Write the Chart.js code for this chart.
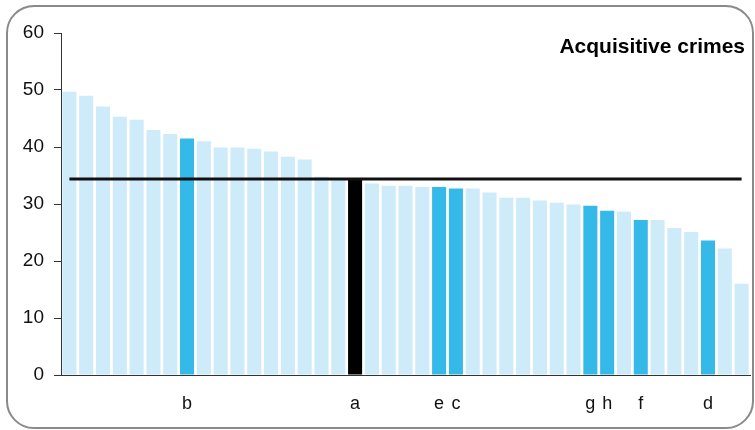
<!DOCTYPE html>
<html>
<head>
<meta charset="utf-8">
<script src="https://cdn.jsdelivr.net/npm/chart.js@4/dist/chart.umd.min.js"></script>
<style>
    body { margin: 0; background: #fff; }
    #frame {
        position: absolute; left: 6px; top: 5px;
        width: 744px; height: 420px;
        border: 2px solid #8a8a8a; border-radius: 28px;
        overflow: hidden;
    }
    canvas { display: block; }
</style>
</head>
<body>
<div id="frame"><canvas id="chart" width="744" height="420"></canvas></div>
<script>
// bar labels (most areas unlabeled)
const areaLabels = ['', '', '', '', '', '', '', 'b', '', '',
                    '', '', '', '', '', '', '', 'a', '', '',
                    '', '', 'e', 'c', '', '', '', '', '', '',
                    '', 'g', 'h', '', 'f', '', '', '', 'd', '', ''];
const rates = [49.7, 49.0, 47.1, 45.3, 44.8, 43.0, 42.3, 41.5, 41.0, 39.9,
               39.9, 39.7, 39.2, 38.3, 37.8, 34.8, 34.2, 34.4, 33.6, 33.2,
               33.2, 33.0, 33.0, 32.7, 32.7, 32.0, 31.1, 31.1, 30.6, 30.2,
               29.9, 29.7, 28.8, 28.7, 27.2, 27.2, 25.8, 25.1, 23.6, 22.2, 16.0];
const average = 34.4;
const yTicks = [0, 10, 20, 30, 40, 50, 60];
const chartTitle = 'Acquisitive crimes';

const barColors = areaLabels.map(l => l === '' ? '#cdebf8' : (l === 'a' ? '#000000' : '#34b9e8'));

const titlePlugin = {
    id: 'cornerTitle',
    afterDraw(chart) {
        const ctx = chart.ctx;
        ctx.save();
        ctx.font = 'bold 21px "Liberation Sans", Arial, sans-serif';
        ctx.fillStyle = '#000';
        ctx.textAlign = 'right';
        ctx.textBaseline = 'alphabetic';
        ctx.fillText(chartTitle, chart.chartArea.right - 5, 46);
        ctx.restore();
    }
};

new Chart(document.getElementById('chart'), {
    type: 'bar',
    data: {
        labels: areaLabels,
        datasets: [{
            type: 'line',
            data: areaLabels.map(() => average),
            borderColor: '#111',
            borderWidth: 3,
            pointRadius: 0,
            order: 0
        }, {
            data: rates,
            backgroundColor: barColors,
            barPercentage: 0.835,
            categoryPercentage: 1,
            order: 1
        }]
    },
    options: {
        responsive: false,
        animation: false,
        layout: { padding: { top: 26, right: 2, left: 0, bottom: 0 } },
        plugins: { legend: { display: false }, tooltip: { enabled: false } },
        scales: {
            x: {
                grid: { display: false },
                border: { color: '#333', width: 1 },
                ticks: {
                    autoSkip: false, maxRotation: 0, padding: 10,
                    color: '#111',
                    font: { size: 18, family: '"Liberation Sans", Arial, sans-serif' }
                },
                afterFit(scale) { scale.height = 52; }
            },
            y: {
                min: 0, max: 60,
                afterBuildTicks(scale) { scale.ticks = yTicks.map(v => ({ value: v })); },
                grid: { drawOnChartArea: false, tickLength: 7, color: '#333' },
                border: { color: '#333', width: 1 },
                ticks: {
                    padding: 10, color: '#111',
                    font: { size: 19, family: '"Liberation Sans", Arial, sans-serif' }
                },
                afterFit(scale) { scale.width = 53; }
            }
        }
    },
    plugins: [titlePlugin]
});
</script>
</body>
</html>
